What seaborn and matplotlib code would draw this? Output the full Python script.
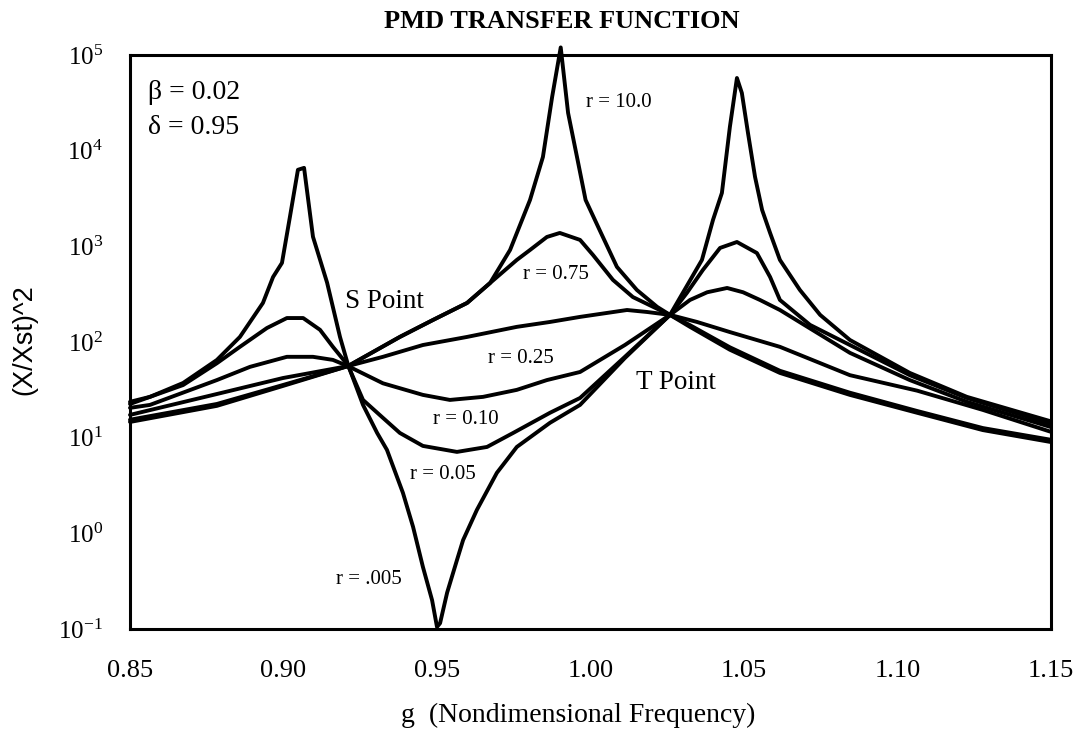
import numpy as np
import pandas as pd
import matplotlib
matplotlib.use("Agg")
import matplotlib.pyplot as plt
from matplotlib.ticker import NullLocator, FixedLocator
import seaborn as sns

# ---------------- data ----------------
r_labels = ["0.005", "0.05", "0.10", "0.25", "0.75", "10.0"]

g_005 = [0.85, 0.8565, 0.8673, 0.8783, 0.8858, 0.8933, 0.8966, 0.8995, 0.9021, 0.9047,
         0.9067, 0.9096, 0.9142, 0.9184, 0.921, 0.9259, 0.9305, 0.9337, 0.9389, 0.9422,
         0.9454, 0.9484, 0.950, 0.951, 0.9533, 0.9565, 0.9585, 0.963, 0.9695, 0.976,
         0.9868, 0.9966, 1.0112, 1.0259, 1.0363, 1.0399, 1.0428, 1.0454, 1.0477, 1.0493,
         1.0513, 1.0536, 1.0559, 1.0585, 1.0617, 1.0682, 1.0748, 1.0845, 1.104, 1.1226, 1.15]
v_005 = [23.7, 26.7, 37.3, 64.9, 113, 256, 478, 671, 2040, 6310,
         6610, 1259, 417, 113, 58, 22, 11.2, 7.45, 2.65, 1.17,
         0.447, 0.20, 0.105, 0.115, 0.24, 0.525, 0.85, 1.76, 4.29, 8.0,
         14.3, 22, 68, 192, 721, 1888, 3614, 17700, 57500, 40100,
         15300, 5310, 2400, 1380, 721, 350, 192, 105, 47.5, 26.7, 14.8]

g_05 = [0.85, 0.8673, 0.8783, 0.8858, 0.8946, 0.9011, 0.9064, 0.9119, 0.9161, 0.921,
        0.9259, 0.9324, 0.9379, 0.9454, 0.9565, 0.9663, 0.9748, 0.9868, 0.9966, 1.0112,
        1.0259, 1.0314, 1.0366, 1.0422, 1.0477, 1.0542, 1.0585, 1.0617, 1.0715, 1.0845,
        1.104, 1.1226, 1.15]
v_05 = [22.5, 35.5, 60, 89, 140, 178, 178, 134, 89, 57,
        24.8, 16.1, 11.2, 8.2, 7.1, 8.0, 11.2, 18.2, 26, 70,
        192, 326, 566, 962, 1110, 851, 478, 275, 151, 93,
        45, 26, 13.9]

g_10 = [0.85, 0.8565, 0.8783, 0.8891, 0.9011, 0.9096, 0.9161, 0.921, 0.9324, 0.9454,
        0.9542, 0.965, 0.976, 0.9858, 0.9966, 1.0112, 1.0259, 1.0324, 1.038, 1.0445,
        1.0497, 1.0552, 1.0617, 1.0845, 1.104, 1.1226, 1.15]
v_10 = [20.5, 22, 40, 55, 70, 70, 65, 56, 37, 28,
        24.8, 26.7, 31.6, 40, 48.6, 93, 192, 275, 331, 367,
        331, 275, 216, 77, 40, 23.7, 12.9]

g_25 = [0.85, 0.8783, 0.8998, 0.921, 0.9324, 0.9454, 0.9598, 0.976, 0.9868, 0.9966,
        1.0119, 1.0184, 1.0259, 1.0347, 1.0454, 1.0617, 1.0845, 1.1064, 1.1278, 1.15]
v_25 = [17.3, 28.6, 42, 56, 70, 93, 113, 144, 162, 183,
        216, 206, 192, 162, 127, 89, 45, 31, 19.5, 11.5]

g_75 = [0.85, 0.8783, 0.8998, 0.921, 0.9379, 0.9487, 0.9598, 0.9673, 0.976, 0.9803,
        0.9858, 0.990, 0.9966, 1.0008, 1.0073, 1.0138, 1.0204, 1.0259, 1.0324, 1.0454,
        1.0617, 1.0845, 1.1064, 1.1278, 1.15]
v_75 = [15.4, 22.5, 35.5, 56, 113, 170, 256, 414, 721, 916,
        1253, 1380, 1167, 813, 446, 295, 233, 192, 150, 88,
        50, 29.5, 19, 12.6, 9.5]

g_100 = [0.85, 0.8783, 0.8998, 0.921, 0.9379, 0.9487, 0.9598, 0.9673, 0.9738, 0.9803,
         0.9845, 0.9875, 0.9903, 0.9927, 0.9956, 0.9984, 1.0031, 1.0086, 1.0151, 1.0217,
         1.0259, 1.0324, 1.0454, 1.0617, 1.0845, 1.1064, 1.1278, 1.15]
v_100 = [14.6, 21.5, 34.7, 56, 113, 170, 256, 414, 916, 3055,
         8590, 36400, 120000, 24800, 8590, 3055, 1450, 610, 350, 233,
         192, 144, 83, 47.5, 28, 18.2, 12, 9.0]

x_ticks = [0.85, 0.90, 0.95, 1.00, 1.05, 1.10, 1.15]
y_ticks = [1e-1, 1e0, 1e1, 1e2, 1e3, 1e4, 1e5]

series = [(r_labels[0], g_005, v_005), (r_labels[1], g_05, v_05), (r_labels[2], g_10, v_10),
          (r_labels[3], g_25, v_25), (r_labels[4], g_75, v_75), (r_labels[5], g_100, v_100)]
df = pd.concat([pd.DataFrame({"g": g, "v": v, "r": lab}) for lab, g, v in series],
               ignore_index=True)

# ---------------- style ----------------
sns.set_style("white")
plt.rcParams["font.family"] = ["Liberation Serif", "DejaVu Serif"]
plt.rcParams["mathtext.fontset"] = "custom"
plt.rcParams["mathtext.rm"] = "Liberation Serif"
plt.rcParams["axes.unicode_minus"] = True
plt.rcParams["text.color"] = "black"
plt.rcParams["axes.labelcolor"] = "black"
plt.rcParams["xtick.color"] = "black"
plt.rcParams["ytick.color"] = "black"

fig = plt.figure(figsize=(10.8, 7.34), dpi=100)
ax = fig.add_axes([130 / 1080, 1 - 629 / 734, 921 / 1080, 574 / 734])

sns.lineplot(data=df, x="g", y="v", hue="r", hue_order=r_labels,
             palette={k: "black" for k in r_labels}, estimator=None, sort=True,
             linewidth=2.8, legend=False, ax=ax)
for ln in ax.lines:
    ln.set_clip_on(False)
    ln.set_solid_joinstyle("round")

ax.set_yscale("log")
ax.set_xlim(0.85, 1.15)
ax.set_ylim(1e-1, 1e5)
ax.xaxis.set_major_locator(FixedLocator(x_ticks))
ax.set_xticklabels([f"{t:.2f}" for t in x_ticks])
ax.yaxis.set_major_locator(FixedLocator(y_ticks))
ax.yaxis.set_minor_locator(NullLocator())
ax.xaxis.set_minor_locator(NullLocator())

for s in ax.spines.values():
    s.set_visible(True)
    s.set_color("black")
    s.set_linewidth(2.2)
ax.tick_params(axis="both", which="major", direction="out", length=8.5, width=2,
               color="black", labelcolor="black")
ax.tick_params(axis="x", pad=14, labelsize=19)
ax.tick_params(axis="y", pad=11, labelsize=18)

ax.set_xlabel("g  (Nondimensional Frequency)", fontsize=20, color="black")
ax.xaxis.set_label_coords((578 - 130) / 921, -0.128)
ax.set_ylabel("(X/Xst)^2", fontsize=19.5, family=["Liberation Sans", "DejaVu Sans"],
              color="black")
ax.yaxis.set_label_coords(-0.101, 0.5035)

fig.text(562 / 1080, 1 - 21 / 734, "PMD TRANSFER FUNCTION", ha="center", va="center",
         fontsize=19, fontweight="bold", color="black")

# annotations
ax.text(0.8559, 4.1e4, "β = 0.02", fontsize=20, ha="left", va="center")
ax.text(0.8559, 1.73e4, "δ = 0.95", fontsize=20, ha="left", va="center")
ax.text(0.9985, 3.15e4, "r = 10.0", fontsize=15, ha="left", va="center")
ax.text(0.978, 502, "r = 0.75", fontsize=15, ha="left", va="center")
ax.text(0.920, 265, "S Point", fontsize=19.5, ha="left", va="center")
ax.text(0.9666, 68, "r = 0.25", fontsize=15, ha="left", va="center")
ax.text(0.9487, 15.3, "r = 0.10", fontsize=15, ha="left", va="center")
ax.text(1.0148, 37.4, "T Point", fontsize=19.5, ha="left", va="center")
ax.text(0.9412, 4.08, "r = 0.05", fontsize=15, ha="left", va="center")
ax.text(0.9171, 0.327, "r = .005", fontsize=15, ha="left", va="center")

fig.savefig("out.png", dpi=100, facecolor="white")
